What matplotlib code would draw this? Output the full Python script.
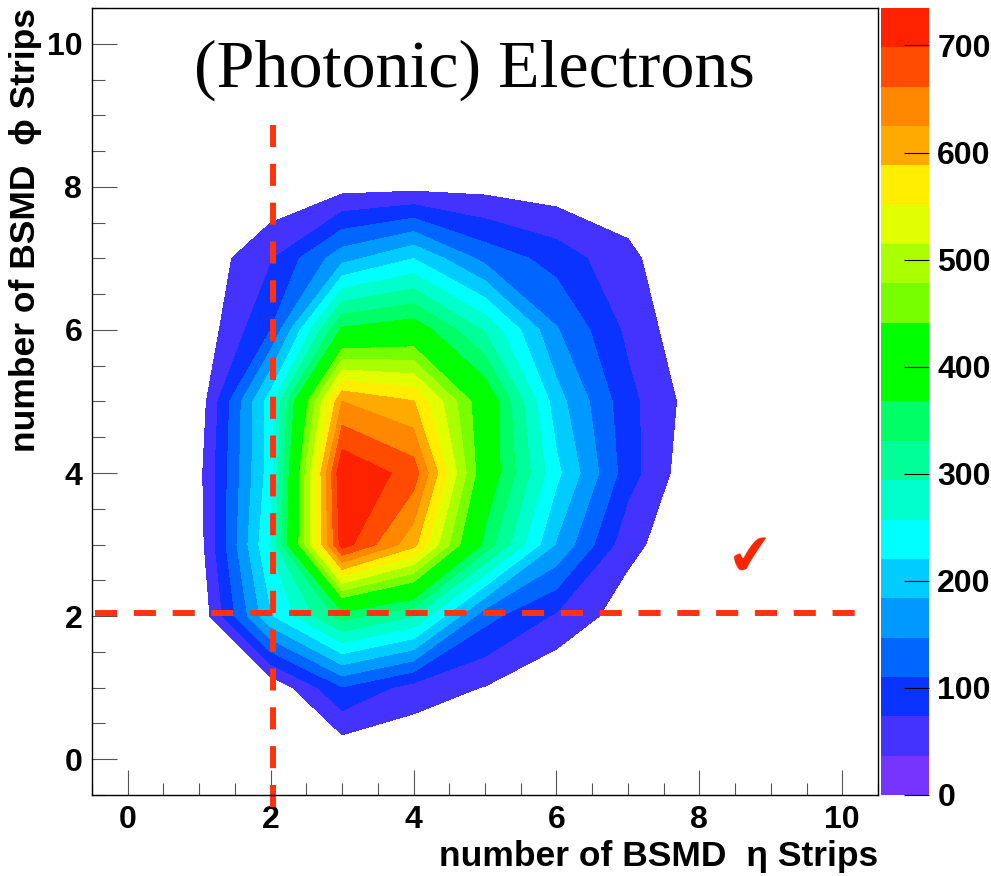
import matplotlib
matplotlib.use('Agg')
import matplotlib.pyplot as plt
import numpy as np
from matplotlib.colors import ListedColormap, BoundaryNorm
from matplotlib.cm import ScalarMappable
from matplotlib.ticker import MultipleLocator

# bin centres
eta_strips = np.arange(11)
phi_strips = np.arange(11)

# bin contents, one row per phi strip (0..10), columns = eta strips 0..10
counts = np.array([
    [0, 0, 0, 0, 0, 0, 0, 0, 0, 0, 0],
    [0, 0, 5, 108, 58, 35, 0, 0, 0, 0, 0],
    [0, 5, 215, 345, 295, 123, 68, 16, 0, 0, 0],
    [0, 20, 260, 717, 600, 355, 180, 48, 3, 0, 0],
    [0, 26, 240, 734, 682, 405, 230, 90, 0, 0, 0],
    [0, 14, 240, 625, 590, 405, 200, 85, 14, 0, 0],
    [0, 8, 110, 375, 395, 290, 150, 65, 0, 0, 0],
    [0, 9, 70, 170, 220, 135, 95, 45, 2, 0, 0],
    [0, 0, 3, 22, 25, 24, 14, 15, 0, 0, 0],
    [0, 0, 0, 0, 0, 0, 0, 0, 0, 0, 0],
    [0, 0, 0, 0, 0, 0, 0, 0, 0, 0, 0],
])

z_max = 735
n_levels = 20
palette = ['#7733ff', '#4433ff', '#0a33ff', '#0066ff', '#0099ff',
           '#00ccff', '#00ffff', '#00ffcc', '#00ff99', '#00ff66',
           '#00ff00', '#00ff00', '#77ff00', '#aaff00', '#e2ff00',
           '#ffee00', '#ffaa00', '#ff8800', '#ff4c00', '#ff2200']
cbar_ticks = [0, 100, 200, 300, 400, 500, 600, 700]

levels = np.linspace(0, z_max, n_levels + 1)

fig = plt.figure(figsize=(9.91, 8.76), dpi=100)
ax = fig.add_axes([0.0928, 0.0925, 0.7932, 0.8984])
cax = fig.add_axes([0.889, 0.0925, 0.0484, 0.8984])

# lowest band is left empty like in the ROOT CONTZ drawing
ax.contourf(eta_strips, phi_strips, counts, levels=levels[1:], colors=palette[1:])

ax.set_xlim(-0.5, 10.5)
ax.set_ylim(-0.5, 10.5)

tick_font = dict(family='Liberation Sans', weight='bold', size=23)
ax.xaxis.set_major_locator(MultipleLocator(2))
ax.xaxis.set_minor_locator(MultipleLocator(0.5))
ax.yaxis.set_major_locator(MultipleLocator(2))
ax.yaxis.set_minor_locator(MultipleLocator(0.5))
ax.tick_params(which='major', direction='in', length=18, width=0.8, color='#555555', pad=7)
ax.tick_params(which='minor', direction='in', length=9, width=0.8, color='#555555')
for lab in ax.get_xticklabels() + ax.get_yticklabels():
    lab.set_fontproperties(tick_font)
for sp in ax.spines.values():
    sp.set_linewidth(1.0)

ax.set_xlabel('number of BSMD  η Strips', family=['Liberation Sans', 'DejaVu Sans'],
              weight='bold', size=25.5, loc='right', labelpad=4)
ax.set_ylabel('number of BSMD  ϕ Strips', family=['Liberation Sans', 'DejaVu Sans'],
              weight='bold', size=25.5, loc='top', labelpad=3)

ax.text(4.85, 9.63, '(Photonic) Electrons', family='Liberation Serif', size=49,
        ha='center', va='center')

# cut lines
red = '#ff3311'
ax.plot([2.03, 2.03], [-0.67, 8.93], color=red, lw=4.3, dashes=(3.7, 2.8), clip_on=False)
ax.plot([-0.46, 10.24], [2.05, 2.05], color=red, lw=4.3, dashes=(3.7, 2.8), clip_on=False)
ax.text(8.72, 2.8, '\u2714', family='DejaVu Sans', size=40, color='#ff2200',
        ha='center', va='center', rotation=6)

# colour scale
sm = ScalarMappable(norm=BoundaryNorm(levels, n_levels), cmap=ListedColormap(palette))
cb = fig.colorbar(sm, cax=cax, ticks=cbar_ticks)
cb.minorticks_off()
cb.outline.set_visible(False)
cax.tick_params(direction='in', length=18, width=0.8, color='black', pad=6)
for lab in cax.get_yticklabels():
    lab.set_fontproperties(tick_font)

fig.savefig('out.png', dpi=100)
